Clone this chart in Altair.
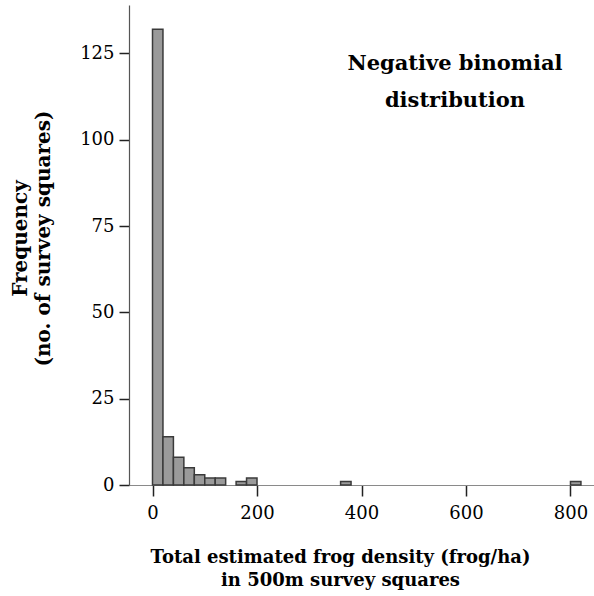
import altair as alt
import pandas as pd

bin_start = [0, 20, 40, 60, 80, 100, 120, 160, 180, 360, 800]
bin_width = 20
counts = [132, 14, 8, 5, 3, 2, 2, 1, 2, 1, 1]
x_ticks = [0, 200, 400, 600, 800]
y_ticks = [0, 25, 50, 75, 100, 125]

df = pd.DataFrame({
    "start": bin_start,
    "end": [s + bin_width for s in bin_start],
    "count": counts,
})

FONT = "DejaVu Serif"

bars = alt.Chart(df).mark_bar(
    fill="#9a9a9a", stroke="#3a3a3a", strokeWidth=1.5
).encode(
    x=alt.X("start:Q",
            scale=alt.Scale(domain=[-45, 845], nice=False, zero=False),
            axis=alt.Axis(
                values=x_ticks, grid=False, format="d",
                title=["Total estimated frog density (frog/ha)", "in 500m survey squares"],
                titleFont=FONT, titleFontSize=18, titleFontWeight="bold",
                titleColor="#000", titleLineHeight=23,
                titleX=211, titleY=63, titleAlign="center", titleBaseline="top",
                labelFont=FONT, labelFontSize=18, labelColor="#000", labelPadding=8,
                tickSize=11, tickColor="#222", tickWidth=1.5,
                domainColor="#8a8a8a", domainWidth=1.2,
            )),
    x2="end:Q",
    y=alt.Y("count:Q",
            scale=alt.Scale(domain=[0, 139], nice=False),
            axis=alt.Axis(
                values=y_ticks, grid=False,
                title=["Frequency", "(no. of survey squares)"],
                titleFont=FONT, titleFontSize=20, titleFontWeight="bold",
                titleColor="#000", titleLineHeight=23,
                titleX=-119, titleY=233, titleAngle=-90,
                titleAlign="center", titleBaseline="top",
                labelFont=FONT, labelFontSize=18, labelColor="#000", labelPadding=5,
                tickSize=10, tickColor="#222", tickWidth=1.5,
                domainColor="#555", domainWidth=1.2,
            )),
    y2=alt.datum(0),
)

note = alt.Chart(pd.DataFrame({"t": ["Negative binomial\ndistribution"]})).mark_text(
    font=FONT, fontSize=21, fontWeight="bold", color="#000",
    align="center", baseline="alphabetic", lineBreak="\n", lineHeight=37,
).encode(
    text="t:N",
    x=alt.value(326),
    y=alt.value(65),
)

chart = alt.layer(bars, note).properties(
    width=465, height=480,
    autosize=alt.AutoSizeParams(type="none"),
    padding={"left": 129, "top": 5, "right": 0, "bottom": 111},
    background="white",
).configure_view(stroke=None)

chart.save("out.html", embed_options={"renderer": "svg", "actions": False})
